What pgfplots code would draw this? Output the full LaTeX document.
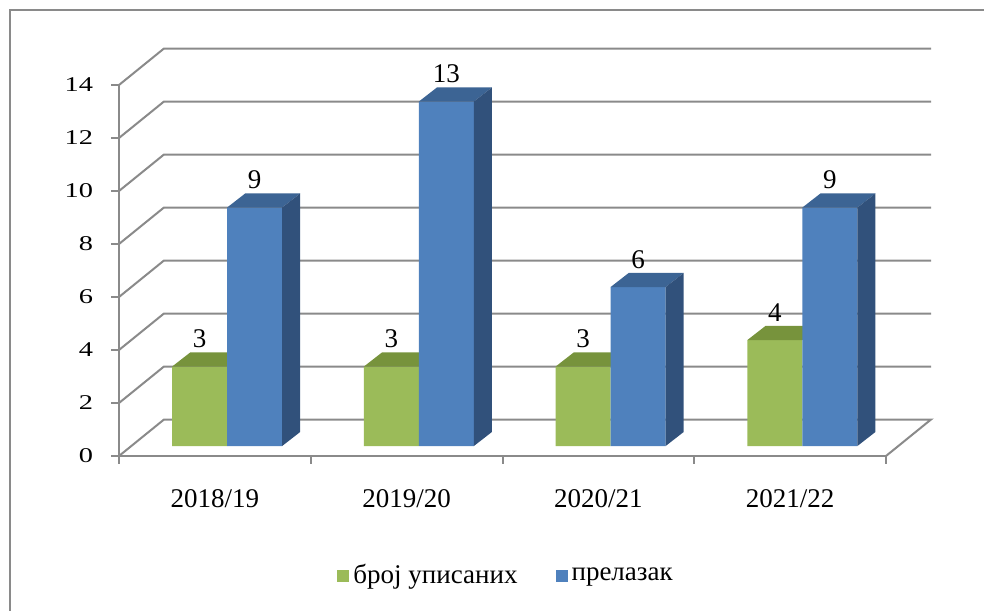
\documentclass[border=0pt]{standalone}
\usepackage{fontspec}
\setmainfont{Liberation Serif}
\newfontfamily\tickfont[FakeStretch=1.35]{Liberation Serif}
\usepackage{pgfplots}
\pgfplotsset{compat=1.18}
\definecolor{gridgray}{HTML}{8A8A8A}
\definecolor{cgreen}{HTML}{9BBB59}
\definecolor{cgreentop}{HTML}{77933C}
\definecolor{cblue}{HTML}{4F81BD}
\definecolor{cbluetop}{HTML}{3C6494}
\definecolor{cblueside}{HTML}{31517B}
\begin{document}
\begin{tikzpicture}
\useasboundingbox (0,0) rectangle (492pt,305pt);
\draw[gridgray, line width=1.2pt] (5pt,-2pt) -- (5pt,300pt) -- (494pt,300pt);
% frame axis (front plane)
\begin{axis}[
  at={(59.5pt,77pt)}, anchor=south west,
  scale only axis, width=383.5pt, height=185.5pt,
  xmin=0, xmax=4, ymin=0, ymax=14, clip=false,
  axis x line*=bottom, axis y line*=left,
  axis line style={draw=gridgray, line width=1pt},
  xtick={0.5,1.5,2.5,3.5},
  xticklabels={2018/19,2019/20,2020/21,2021/22},
  minor xtick={0,1,2,3,4},
  ytick={0,2,...,14},
  tick align=outside,
  major tick length=4pt, minor tick length=4pt,
  tick style={draw=gridgray, line width=1pt},
  major x tick style={draw=none},
  /pgf/number format/assume math mode=true,
  xticklabel style={font=\fontsize{13.5}{15}\selectfont, yshift=-9pt},
  yticklabel style={font=\tickfont\fontsize{10.5}{12}\selectfont, xshift=-5.5pt},
  unbounded coords=jump,
]
\addplot[draw=gridgray, line width=1pt] table[row sep=\\] {
x y\\
4 0\\ 4.2347 1.377\\ 0.2347 1.377\\ 0 0\\ nan nan\\
0 2\\ 0.2347 3.377\\ 4.2347 3.377\\ nan nan\\
0 4\\ 0.2347 5.377\\ 4.2347 5.377\\ nan nan\\
0 6\\ 0.2347 7.377\\ 4.2347 7.377\\ nan nan\\
0 8\\ 0.2347 9.377\\ 4.2347 9.377\\ nan nan\\
0 10\\ 0.2347 11.377\\ 4.2347 11.377\\ nan nan\\
0 12\\ 0.2347 13.377\\ 4.2347 13.377\\ nan nan\\
0 14\\ 0.2347 15.377\\ 4.2347 15.377\\
};
\end{axis}
% bar axis (bar front plane)
\begin{axis}[
  at={(59.5pt,77pt)}, anchor=south west,
  scale only axis, width=383.5pt, height=185.5pt,
  xmin=-0.0641, xmax=3.9359, ymin=-0.377, ymax=13.623,
  axis lines=none, clip=false,
  /pgf/number format/assume math mode=true,
  legend columns=2,
  legend style={draw=none, fill=none, at={(0.506,-0.323)}, anchor=center,
    font=\fontsize{13.5}{15}\selectfont,
    /tikz/every even column/.append style={column sep=17pt}},
  legend cell align=left,
]
\addplot[ybar, bar width=0.2868, bar shift=-0.1434, fill=cgreen, draw=none,
  nodes near coords, nodes near coords style={font=\fontsize{13.5}{15}\selectfont, yshift=5.8pt, xshift=-13.75pt, black},
  legend image code/.code={\fill[cgreen] (0pt,-3pt) rectangle (6pt,3pt);}]
  coordinates {(0.5,3) (1.5,3) (2.5,3) (3.5,4)};
\addlegendentry{број уписаних}
% green top faces
\addplot[fill=cgreentop, draw=none, forget plot] coordinates {(0.2132,3) (0.5,3) (0.594,3.53) (0.3072,3.53)} --cycle;
\addplot[fill=cgreentop, draw=none, forget plot] coordinates {(1.2132,3) (1.5,3) (1.594,3.53) (1.3072,3.53)} --cycle;
\addplot[fill=cgreentop, draw=none, forget plot] coordinates {(2.2132,3) (2.5,3) (2.594,3.53) (2.3072,3.53)} --cycle;
\addplot[fill=cgreentop, draw=none, forget plot] coordinates {(3.2132,4) (3.5,4) (3.594,4.53) (3.3072,4.53)} --cycle;
\addplot[ybar, bar width=0.2868, bar shift=0.1434, fill=cblue, draw=none,
  nodes near coords, nodes near coords style={font=\fontsize{13.5}{15}\selectfont, yshift=5.8pt, xshift=13.75pt, black},
  legend image code/.code={\fill[cblue] (0pt,-3pt) rectangle (6pt,3pt);}]
  coordinates {(0.5,9) (1.5,13) (2.5,6) (3.5,9)};
\addlegendentry{прелазак}
% blue top faces
\addplot[fill=cbluetop, draw=none, forget plot] coordinates {(0.5,9) (0.7868,9) (0.8808,9.53) (0.594,9.53)} --cycle;
\addplot[fill=cbluetop, draw=none, forget plot] coordinates {(1.5,13) (1.7868,13) (1.8808,13.53) (1.594,13.53)} --cycle;
\addplot[fill=cbluetop, draw=none, forget plot] coordinates {(2.5,6) (2.7868,6) (2.8808,6.53) (2.594,6.53)} --cycle;
\addplot[fill=cbluetop, draw=none, forget plot] coordinates {(3.5,9) (3.7868,9) (3.8808,9.53) (3.594,9.53)} --cycle;
% blue side faces
\addplot[fill=cblueside, draw=none, forget plot] coordinates {(0.7868,0) (0.7868,9) (0.8808,9.53) (0.8808,0.53)} --cycle;
\addplot[fill=cblueside, draw=none, forget plot] coordinates {(1.7868,0) (1.7868,13) (1.8808,13.53) (1.8808,0.53)} --cycle;
\addplot[fill=cblueside, draw=none, forget plot] coordinates {(2.7868,0) (2.7868,6) (2.8808,6.53) (2.8808,0.53)} --cycle;
\addplot[fill=cblueside, draw=none, forget plot] coordinates {(3.7868,0) (3.7868,9) (3.8808,9.53) (3.8808,0.53)} --cycle;
\end{axis}
\end{tikzpicture}
\end{document}
